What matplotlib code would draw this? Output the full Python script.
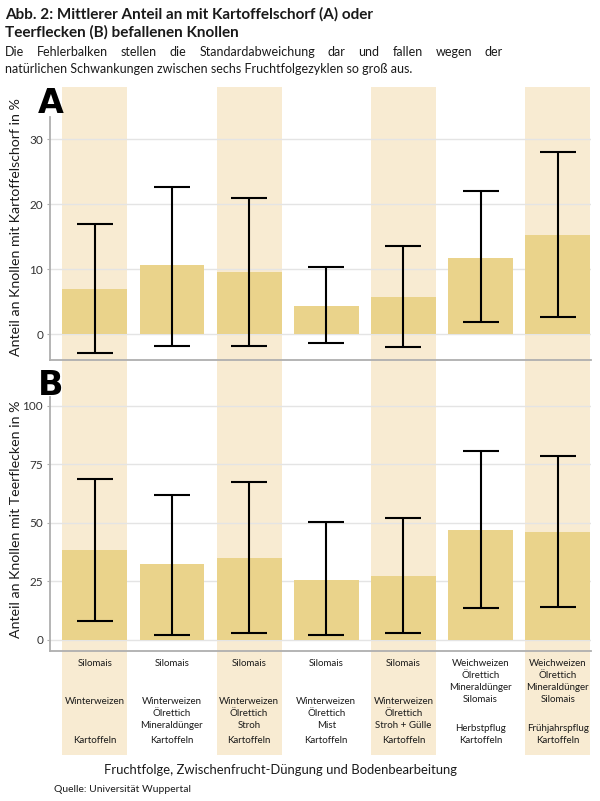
import numpy as np
import matplotlib
matplotlib.use("Agg")
import matplotlib.pyplot as plt
import matplotlib.transforms as mtransforms

plt.rcParams['font.family'] = ['Lato', 'DejaVu Sans']

# Daten
x = np.arange(1, 8)
schorf_mean = [7.0, 10.6, 9.6, 4.3, 5.7, 11.7, 15.2]
schorf_low = [-2.8, -1.8, -1.8, -1.4, -2.0, 1.9, 2.7]
schorf_high = [16.9, 22.6, 21.0, 10.4, 13.5, 22.0, 28.0]

teer_mean = [38.3, 32.4, 35.1, 25.6, 27.5, 46.9, 46.0]
teer_low = [8.1, 2.3, 3.1, 2.3, 3.1, 13.8, 14.1]
teer_high = [68.7, 61.9, 67.3, 50.2, 51.9, 80.7, 78.5]

top_labels = ["Silomais", "Silomais", "Silomais", "Silomais", "Silomais",
              "Weichweizen\nÖlrettich\nMineraldünger\nSilomais",
              "Weichweizen\nÖlrettich\nMineraldünger\nSilomais"]
mid_labels = ["Winterweizen",
              "Winterweizen\nÖlrettich\nMineraldünger",
              "Winterweizen\nÖlrettich\nStroh",
              "Winterweizen\nÖlrettich\nMist",
              "Winterweizen\nÖlrettich\nStroh + Gülle",
              "", ""]
bottom_labels = ["Kartoffeln", "Kartoffeln", "Kartoffeln", "Kartoffeln",
                 "Kartoffeln", "Herbstpflug\nKartoffeln",
                 "Frühjahrspflug\nKartoffeln"]
band_cols = [1, 3, 5, 7]

title_lines = ["Abb. 2: Mittlerer Anteil an mit Kartoffelschorf (A) oder",
               "Teerflecken (B) befallenen Knollen"]
sub_lines = ["Die Fehlerbalken stellen die Standardabweichung dar und fallen wegen der",
             "natürlichen Schwankungen zwischen sechs Fruchtfolgezyklen so groß aus."]

bar_color = "#EAD38B"
band_color = "#F8EBD2"
grid_color = "#E4E4E4"
spine_color = "#AFAFAF"
text_color = "#1a1a1a"

W, H = 600, 801
fig = plt.figure(figsize=(W / 100, H / 100), dpi=100)
fig.patch.set_facecolor("white")

def fy(py):
    return 1 - py / H

left, right = 50 / W, 591 / W
ax_a = fig.add_axes([left, fy(360), right - left, fy(117) - fy(360)])
ax_b = fig.add_axes([left, fy(651), right - left, fy(397) - fy(651)])
ax_b.set_zorder(0)
ax_a.set_zorder(1)
ax_a.set_facecolor("none")

def style(ax, ylim, ticks, ylabel):
    ax.set_xlim(0.42, 7.43)
    ax.set_ylim(*ylim)
    ax.set_yticks(ticks)
    ax.set_xticks([])
    ax.yaxis.grid(True, color=grid_color, linewidth=1)
    ax.set_axisbelow(True)
    for s in ["top", "right"]:
        ax.spines[s].set_visible(False)
    for s in ["left", "bottom"]:
        ax.spines[s].set_color(spine_color)
        ax.spines[s].set_linewidth(1.3)
    ax.tick_params(axis="y", length=2, color=spine_color, labelsize=8.5,
                   labelcolor="#333333", pad=3)
    ax.set_ylabel(ylabel, fontsize=10.2, color=text_color)

def draw(ax, mean, lo, hi):
    mean = np.array(mean)
    yerr = [mean - np.array(lo), np.array(hi) - mean]
    ax.bar(x, mean, width=0.84, color=bar_color, zorder=2)
    ax.errorbar(x, mean, yerr=yerr, fmt="none", ecolor="black",
                elinewidth=1.5, capsize=13, capthick=1.5, zorder=3)

style(ax_a, (-3.95, 33.4), [0, 10, 20, 30],
      "Anteil an Knollen mit Kartoffelschorf in %")
style(ax_b, (-4.7, 103.7), [0, 25, 50, 75, 100],
      "Anteil an Knollen mit Teerflecken in %")
ax_a.yaxis.set_label_coords(-0.052, 0.547)
ax_b.yaxis.set_label_coords(-0.052, 0.52)
draw(ax_a, schorf_mean, schorf_low, schorf_high)
draw(ax_b, teer_mean, teer_low, teer_high)

# Hintergrundbänder über beide Panels und die Beschriftung
span = 651 - 397
for c in band_cols:
    ax_b.axvspan(c - 0.42, c + 0.42, ymin=(651 - 755) / span,
                 ymax=(651 - 87) / span, color=band_color, zorder=0,
                 clip_on=False, linewidth=0)

# Kategorienbeschriftung, Zeile für Zeile
trans = mtransforms.blended_transform_factory(ax_b.transData, fig.transFigure)
step = 12.1

def label_block(xi, text, first_base):
    for k, line in enumerate(text.split("\n")):
        if line:
            ax_b.text(xi, fy(first_base + k * step), line, transform=trans,
                      ha="center", va="baseline", fontsize=7.0,
                      color=text_color)

for i, xi in enumerate(x):
    label_block(xi, top_labels[i], 666)
    label_block(xi, mid_labels[i], 703.5)
    n = len(bottom_labels[i].split("\n"))
    label_block(xi, bottom_labels[i], 743.3 - (n - 1) * step)

# Panelbuchstaben
fig.text(38 / W, fy(113), "A", fontsize=24, fontweight="heavy",
         family="DejaVu Sans", color="black", ha="left", va="baseline")
fig.text(38 / W, fy(395), "B", fontsize=24, fontweight="heavy",
         family="DejaVu Sans", color="black", ha="left", va="baseline")

# Titel
fig.text(5 / W, fy(19), title_lines[0], fontsize=11, fontweight="bold",
         color=text_color, ha="left", va="baseline")
fig.text(5 / W, fy(36.7), title_lines[1], fontsize=11, fontweight="bold",
         color=text_color, ha="left", va="baseline")

# Untertitel: erste Zeile im Blocksatz
sub_size = 9.0
renderer = fig.canvas.get_renderer()
words = sub_lines[0].split()
word_texts = [fig.text(0, fy(56), w, fontsize=sub_size, color=text_color,
                       ha="left", va="baseline") for w in words]
widths = [t.get_window_extent(renderer).width for t in word_texts]
x0, x1 = 5, 503
gap = (x1 - x0 - sum(widths)) / (len(words) - 1)
pos = x0
for t, w in zip(word_texts, widths):
    t.set_x(pos / W)
    pos += w + gap
fig.text(5 / W, fy(72.7), sub_lines[1], fontsize=sub_size, color=text_color,
         ha="left", va="baseline")

fig.text(281 / W, fy(770), "Fruchtfolge, Zwischenfrucht-Düngung und Bodenbearbeitung",
         fontsize=9.4, color=text_color, ha="center", va="center")
fig.text(54 / W, fy(789), "Quelle: Universität Wuppertal", fontsize=7.5,
         color=text_color, ha="left", va="center")

fig.savefig("out.png", dpi=100)
